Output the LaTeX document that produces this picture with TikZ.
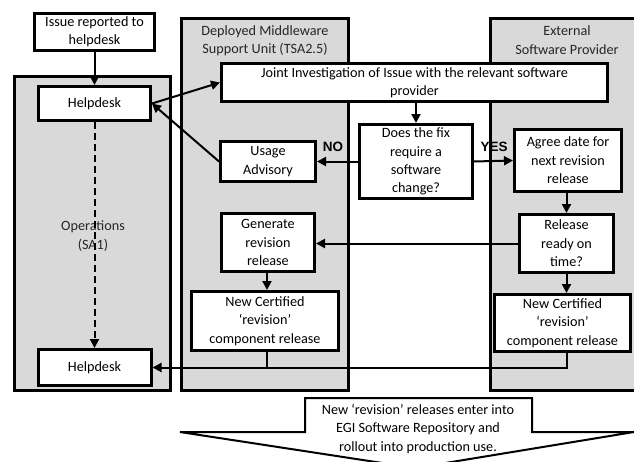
\documentclass[tikz,border=0pt]{standalone}
\usepackage{fontspec}
\setmainfont{Carlito}
\newfontfamily\labfont{Liberation Sans}
\usepackage{tikz}
\usetikzlibrary{calc,arrows.meta}
\definecolor{ink}{HTML}{000000}
\definecolor{lanegray}{HTML}{D9D9D9}
\definecolor{lanetext}{HTML}{262626}
\tikzset{
  lane/.style={draw=black, fill=lanegray, line width=3pt},
  box/.style={draw=black, fill=white, line width=3pt, inner sep=0pt, align=center,
    text=ink, font=\fontsize{14.2}{18.4}\selectfont},
  lanelab/.style={text=lanetext, align=center, font=\fontsize{14.2}{18.4}\selectfont},
  arr/.style={draw=black, line width=2pt, -{Triangle[length=9pt,width=9pt]}},
  conn/.style={draw=black, line width=2pt},
  yesno/.style={font=\labfont\bfseries\fontsize{13.5}{15}\selectfont, text=black},
}

\begin{document}
\begin{tikzpicture}[x=1pt,y=-1pt]
  \useasboundingbox (0,0) rectangle (634,461);
  \clip (0,0) rectangle (634,461);
  % swim lanes
  \draw[lane] (14.5,76.5) rectangle (170.5,390.5);
  \draw[lane] (181.5,18.5) rectangle (348.5,390.5);
  \draw[lane] (490.5,18.5) rectangle (645,390.5);
  \node[lanelab] (opslab) at (93,236) {Operations\\(SA1)};
  \node[lanelab] (mwlab) at (265,41) {Deployed Middleware\\Support Unit (TSA2.5)};
  \node[lanelab] (extlab) at (567,40) {External\\Software Provider};
  % process boxes
  \node[box, minimum width=120, minimum height=37] (issue) at (94.5,32) {Issue reported to\\helpdesk};
  \node[box, minimum width=112, minimum height=34] (help1) at (94.5,103.5) {Helpdesk};
  \node[box, minimum width=113, minimum height=36] (help2) at (94.5,367.5) {Helpdesk};
  \node[box, minimum width=386, minimum height=38] (joint) at (414.5,82.5)
    {Joint Investigation of Issue with the relevant software\\provider};
  \node[box, minimum width=113, minimum height=74] (fix) at (416,161.5)
    {Does the fix\\require a\\software\\change?};
  \node[box, minimum width=95, minimum height=40] (usage) at (268,161.5) {Usage\\Advisory};
  \node[box, minimum width=107, minimum height=62] (agree) at (568,160.5)
    {Agree date for\\next revision\\release};
  \node[box, minimum width=94, minimum height=58] (ready) at (566.5,243.5)
    {Release\\ready on\\time?};
  \node[box, minimum width=93, minimum height=58] (genrel) at (268,242.5)
    {Generate\\revision\\release};
  \node[box, minimum width=147, minimum height=59] (certmw) at (265,321)
    {New Certified\\`revision'\\component release};
  \node[box, minimum width=136, minimum height=57] (certext) at (562.5,323)
    {New Certified\\`revision'\\component release};
  % connectors
  \draw[arr] (issue) -- (help1);
  \draw[arr, dashed, dash pattern=on 7pt off 4pt] (help1) -- (help2);
  \draw[arr] (help1.east) -- (joint.west);
  \draw[arr] (usage.west) -- (help1.east);
  \draw[arr] (joint.south -| fix.north) -- (fix.north);
  \draw[arr] (fix.west) -- (usage.east);
  \draw[arr] (fix.east) -- (agree.west);
  \node[yesno] (nolab) at (333,147) {NO};
  \node[yesno] (yeslab) at (494,147) {YES};
  \draw[arr] (agree.south -| ready.north) -- (ready.north);
  \draw[arr] (ready.west) -- (genrel.east |- ready.west);
  \draw[arr] (genrel.south -| certmw.north) ++(2,0) -- ($(certmw.north)+(2,0)$);
  \draw[arr] (ready.south -| certext.north) ++(4,0) -- ($(certext.north)+(4,0)$);
  \draw[arr] ($(certext.south)+(4,0)$) |- (help2.east);
  \draw[conn] ($(certmw.south)+(2,0)$) -- ($(certmw.south |- help2.east)+(2,0)$);
  % rollout callout
  \coordinate (cTL) at (305,398);
  \coordinate (cTR) at (532,398);
  \draw[conn, fill=white] (cTL) -- (cTR) -- (532,432) -- (634,432) -- (415,468)
    -- (180,432) -- (305,432) -- cycle;
  \node[lanelab, text=ink] (rollout) at (418,429)
    {New `revision' releases enter into\\EGI Software Repository and\\rollout into production use.};
\end{tikzpicture}
\end{document}
